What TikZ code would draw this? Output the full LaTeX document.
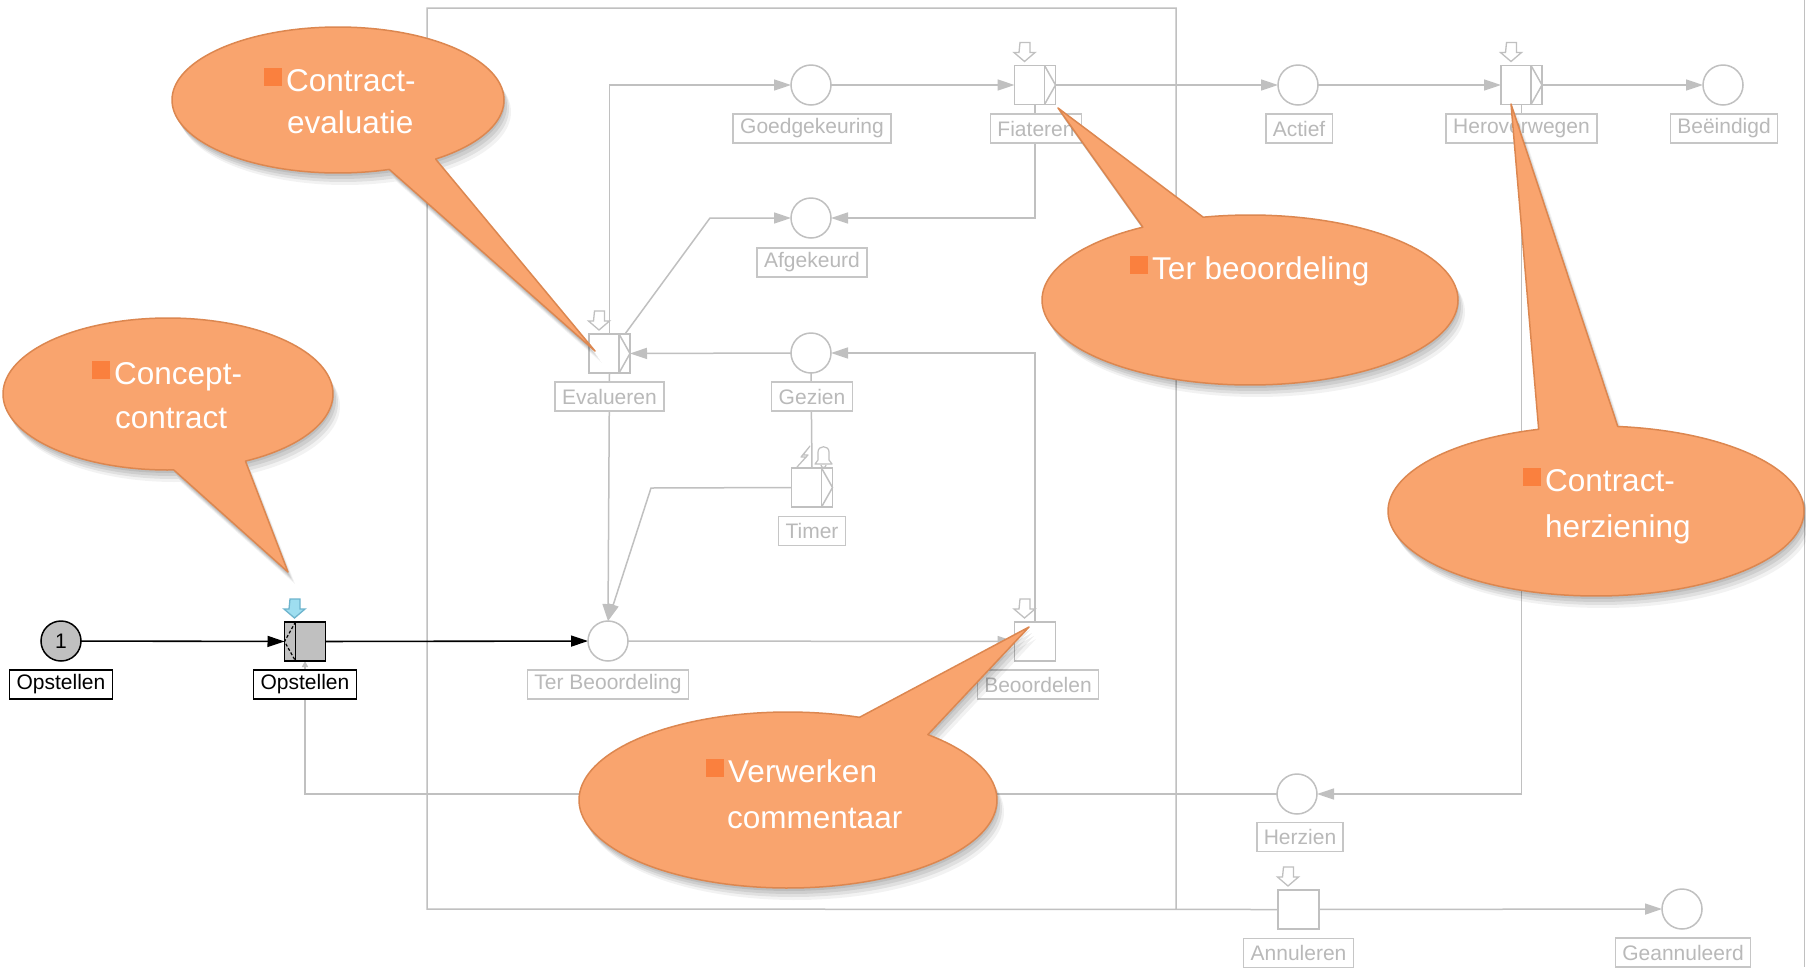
\documentclass[tikz,border=0pt]{standalone}
\usepackage{fontspec}
\setmainfont{Liberation Sans}
\usetikzlibrary{arrows.meta,calc}
\pgfdeclarelayer{bg}
\pgfdeclarelayer{paper}
\pgfsetlayers{paper,bg,main}
\definecolor{lg}{RGB}{192,192,192}
\definecolor{lbox}{RGB}{198,198,198}
\definecolor{ltext}{RGB}{185,185,185}
\definecolor{opgrey}{RGB}{192,192,192}
\definecolor{cyanarr}{RGB}{158,222,240}
\definecolor{cyanedge}{RGB}{110,180,205}
\definecolor{cofill}{RGB}{249,164,110}
\definecolor{coedge}{RGB}{220,135,80}
\definecolor{cobulc}{RGB}{250,128,62}
\newcommand\labfont{\fontsize{21}{25}\selectfont}
\newcommand\cofont{\fontsize{31.5}{45}\selectfont}
\newcommand\cobul{{\color{cobulc}\raisebox{5pt}{\rule{18pt}{18pt}}}\hspace{4pt}}
\newcommand\drawcallout[9]{%
 \foreach \sx/\sy/\op in {1/3/0.08,3/6/0.08,5/9/0.07,7/12/0.05}{%
  \fill[black, opacity=\op, shift={(\sx,\sy)}] ({#1+#3*cos(#7)},{#2+#4*sin(#7)}) -- (#5,#6) -- plot[domain=#8:#9, samples=140, variable=\t] ({#1+#3*cos(\t)},{#2+#4*sin(\t)}) -- cycle;}%
 \filldraw[fill=cofill, draw=coedge, line width=1.5pt, line join=round] ({#1+#3*cos(#7)},{#2+#4*sin(#7)}) -- (#5,#6) -- plot[domain=#8:#9, samples=140, variable=\t] ({#1+#3*cos(\t)},{#2+#4*sin(\t)}) -- cycle;%
}
\newcommand\rpart[1]{%
 \draw[lg, line width=1.5pt] ($(#1.north east)+(-11,0)$) -- ($(#1.south east)+(-11,0)$);
 \draw[lg, line width=1.5pt] ($(#1.north east)+(-11,0)$) -- (#1.east) -- ($(#1.south east)+(-11,0)$);}
\newcommand\blockarr[3]{%
 \filldraw[fill=#2, draw=#3, line width=1.3pt, line join=miter] ($(#1.north west)+(5.5,-23)$) -- ++(10,0) -- ++(0,10) -- ++(5,0) -- ++(-10.5,9) -- ++(-10.5,-9) -- ++(5,0) -- cycle;}
\begin{document}
\begin{tikzpicture}[x=1pt,y=-1pt,
 gl/.style={draw=lg, line width=1.5pt},
 garr/.style={gl, -{Triangle[length=17pt,width=11pt]}},
 barr/.style={draw=black, line width=1.6pt, -{Triangle[length=17pt,width=11pt]}},
 place/.style={circle, draw=lg, line width=1.5pt, fill=white, minimum size=40pt, inner sep=0pt, outer sep=0pt},
 trans/.style={rectangle, draw=lg, line width=1.5pt, fill=white, minimum width=41pt, minimum height=39pt, inner sep=0pt, outer sep=0pt},
 lab/.style={rectangle, draw=lbox, line width=1.5pt, fill=white, text=ltext, font=\labfont, minimum height=29pt, inner xsep=7pt, inner ysep=0pt},
 blab/.style={lab, draw=black, text=black},
 cotext/.style={text=white, font=\cofont, inner sep=0pt, anchor=base west}]
\useasboundingbox (0,0) rectangle (1806,967);
\begin{pgfonlayer}{paper}
\fill[white] (0,0) rectangle (1806,967);
\end{pgfonlayer}

% places and transitions
\node[place, fill=opgrey, draw=black] (p-opst) at (61,641) {\fontsize{21}{21}\selectfont 1};
\node[trans, fill=opgrey, draw=black] (t-opst) at (305,641.5) {};
\node[place] (p-terb) at (608,641) {};
\node[trans] (t-beoord) at (1035,641.5) {};
\node[trans] (t-eval) at (609.5,353.5) {};
\node[place] (p-gez) at (811,353) {};
\node[trans] (t-timer) at (812,487.5) {};
\node[place] (p-afg) at (811,218) {};
\node[place] (p-goed) at (811,85) {};
\node[trans] (t-fiat) at (1035,85) {};
\node[place] (p-actief) at (1298,85) {};
\node[trans] (t-herov) at (1521.5,85) {};
\node[place] (p-beeind) at (1723,85) {};
\node[place] (p-herz) at (1297,794) {};
\node[trans] (t-annul) at (1298.5,909.5) {};
\node[place] (p-gean) at (1682,909) {};

% frame coordinates
\coordinate (fr-tl) at (427,8);
\coordinate (fr-tr) at (1176,8);
\coordinate (fr-bl) at (427,909);
\coordinate (fr-br) at (1176,909);
\coordinate (edge-t) at (1804.5,0);
\coordinate (edge-b) at (1804.5,967);
\coordinate (k-afg) at (710,218);
\coordinate (k-timer) at (651,488);

\begin{pgfonlayer}{bg}
\draw[gl] (edge-t) -- (edge-b);
\draw[gl] (t-annul.west) -- (fr-bl) -- (fr-tl) -- (fr-tr) -- (fr-br);
\draw[barr] (p-opst) -- (t-opst);
\draw[barr] (t-opst) -- (p-terb);
\draw[garr] (p-terb) -- (t-beoord);
\draw[garr] (t-beoord.north) |- (p-gez.east);
\draw[garr] (p-gez) -- (t-eval);
\draw[garr] (t-eval.north) |- (p-goed.west);
\draw[garr] ($(t-eval.north east)+(-5,0)$) -- (k-afg) -- (p-afg.west);
\draw[garr] (t-fiat.south) |- (p-afg.east);
\draw[garr] (p-goed) -- (t-fiat);
\draw[garr] (t-fiat) -- (p-actief);
\draw[garr] (p-actief) -- (t-herov);
\draw[garr] (t-herov) -- (p-beeind);
\draw[garr] (t-herov.south) |- (p-herz.east);
\draw[gl, -{Triangle[length=6pt,width=6pt]}] (p-herz.west) -| (t-opst.south);
\draw[gl] (p-gez.south) -- (t-timer.north);
\draw[garr] (t-timer.west) -- (k-timer) -- (p-terb.north);
\draw[garr] (t-eval.south) -- (p-terb.north);
\draw[garr] (t-annul) -- (p-gean);
\end{pgfonlayer}

% transition details
\rpart{t-eval}
\rpart{t-fiat}
\rpart{t-herov}
\rpart{t-timer}
\draw[black, line width=1.2pt] ($(t-opst.north west)+(11,0)$) -- ($(t-opst.south west)+(11,0)$);
\draw[black, line width=1.2pt, dash pattern=on 3pt off 2pt] ($(t-opst.north west)+(11,0)$) -- (t-opst.west) -- ($(t-opst.south west)+(11,0)$);
\blockarr{t-opst}{cyanarr}{cyanedge}
\blockarr{t-eval}{white}{lg}
\blockarr{t-fiat}{white}{lg}
\blockarr{t-herov}{white}{lg}
\blockarr{t-beoord}{white}{lg}
\blockarr{t-annul}{white}{lg}
% timer icons
\draw[lg, line width=1.2pt, line join=round] (810,446) -- (801,457) -- (806,457) -- (797,467) -- (808,455) -- (803,455) -- cycle;
\draw[lg, line width=1.2pt, fill=white, line join=round] (815,464) -- (818,460) -- (818,452) .. controls (818,445) and (829,445) .. (829,452) -- (829,460) -- (832,464) -- cycle;
\draw[lg, line width=1.2pt] (821,465) arc[start angle=180, end angle=0, radius=2.5];

% labels
\node[blab] (l-opst-p) at ($(p-opst)+(0,43.5)$) {Opstellen};
\node[blab] (l-opst-t) at ($(t-opst)+(0,43)$) {Opstellen};
\node[lab] (l-terb) at ($(p-terb)+(0,43.5)$) {Ter Beoordeling};
\node[lab] (l-beoord) at ($(t-beoord)+(3,43)$) {Beoordelen};
\node[lab] (l-eval) at ($(t-eval)+(0,43)$) {Evalueren};
\node[lab] (l-gez) at ($(p-gez)+(1,43.5)$) {Gezien};
\node[lab] (l-timer) at ($(t-timer)+(0,43.5)$) {Timer};
\node[lab] (l-afg) at ($(p-afg)+(1,44.5)$) {Afgekeurd};
\node[lab] (l-goed) at ($(p-goed)+(1,43.5)$) {Goedgekeuring};
\node[lab] (l-fiat) at ($(t-fiat)+(1,43.5)$) {Fiateren};
\node[lab] (l-actief) at ($(p-actief)+(1,43.5)$) {Actief};
\node[lab] (l-herov) at ($(t-herov)+(0,43.5)$) {Heroverwegen};
\node[lab] (l-beeind) at ($(p-beeind)+(1,43.5)$) {Beëindigd};
\node[lab] (l-herz) at ($(p-herz)+(3,43)$) {Herzien};
\node[lab] (l-annul) at ($(t-annul)+(0,43.5)$) {Annuleren};
\node[lab] (l-gean) at ($(p-gean)+(1,43.5)$) {Geannuleerd};

% callouts
\drawcallout{338}{100}{166}{73}{595}{351}{54}{72}{414}
\node[cotext] (c1a) at (264,91) {\cobul Contract-};
\node[cotext] (c1b) at (287,133) {evaluatie};

\drawcallout{1250}{300}{208}{85}{1058}{108}{-121}{-103}{239}
\node[cotext] (c2a) at (1130,279) {\cobul Ter beoordeling};

\drawcallout{168}{394}{165}{76}{288}{572}{62}{88}{422}
\node[cotext] (c3a) at (92,384) {\cobul Concept-};
\node[cotext] (c3b) at (115,428) {contract};

\drawcallout{1596}{511}{208}{85}{1511}{104}{-106}{-84}{254}
\node[cotext] (c4a) at (1523,491) {\cobul Contract-};
\node[cotext] (c4b) at (1545,537) {herziening};

\drawcallout{788}{800}{209}{88}{1029}{627}{-70}{-48}{290}
\node[cotext] (c5a) at (706,782) {\cobul Verwerken};
\node[cotext] (c5b) at (727,828) {commentaar};
\end{tikzpicture}
\end{document}
